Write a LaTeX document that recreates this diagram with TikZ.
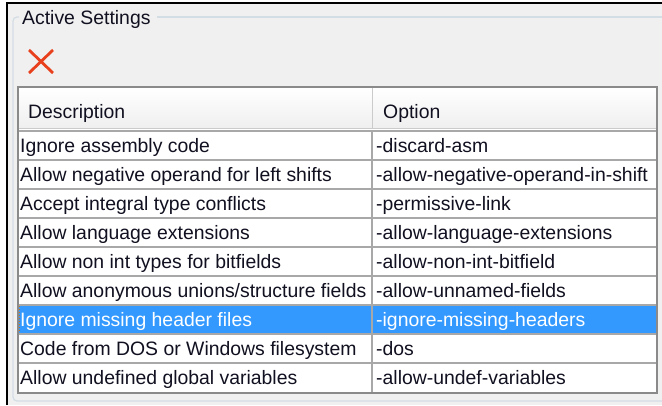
\documentclass[tikz,border=0pt]{standalone}
\usepackage{fontspec}
\setmainfont{Liberation Sans}
\definecolor{winbg}{HTML}{F0F0F0}
\definecolor{framec}{HTML}{D3DDE4}
\definecolor{gridc}{HTML}{A8A8A8}
\definecolor{borderc}{HTML}{8A8A8A}
\definecolor{hdrc}{HTML}{EFEFEF}
\definecolor{selc}{HTML}{3399FF}
\definecolor{focusc}{HTML}{C8741E}
\definecolor{xred}{HTML}{E8401C}
\definecolor{txt}{HTML}{101020}
\begin{document}
\begin{tikzpicture}[x=1pt,y=-1pt,
  every node/.style={inner sep=0pt, font=\fontsize{19.4}{22}\selectfont, text=txt},
  cell/.style={anchor=base west},
  selcell/.style={anchor=base west, text=white},
  gridline/.style={draw=gridc, line width=1.2pt},
]
\useasboundingbox (0,0) rectangle (662,405);
\fill[white] (0,0) rectangle (662,405);
\fill[winbg] (7,3) rectangle (662,405);
\draw[black, line width=1.6pt] (7,405) -- (7,3) -- (662,3);
% group box frame
\draw[framec, line width=1.2pt, rounded corners=4pt] (19,17) -- (13,17) -- (13,401) -- (663,401);
\draw[framec, line width=1.2pt] (157,17) -- (663,17);
\node[cell] (title) at (22,24) {Active Settings};
% delete icon
\coordinate (xa) at (29,50);
\coordinate (xb) at (53,73);
\coordinate (xc) at (53,50);
\coordinate (xd) at (29,73);
\draw[xred, line width=2.8pt] (xa) -- (xb);
\draw[xred, line width=2.8pt] (xc) -- (xd);
% table
\fill[white] (18,87) rectangle (657,393);
\shade[top color=white, bottom color=hdrc] (19,88) rectangle (656,128);
\draw[gridc!60, line width=1pt] (19,128) -- (656,128);
\draw[gridc!60, line width=1pt] (372,88) -- (372,128);
\node[cell] (hdesc) at (28,118) {Description};
\node[cell] (hopt) at (383,118) {Option};
% selected row
\fill[selc] (19,305) rectangle (656,334);
\draw[focusc, line width=1pt, dotted] (19.5,305.5) rectangle (371.5,333.5);
% grid
\foreach \yy in {131,160,189,218,247,276,305,334,363}
  \draw[gridline] (19,\yy) -- (656,\yy);
\draw[gridline] (372,131) -- (372,392);
% texts
\foreach \d/\o [count=\i] in {
  Ignore assembly code/-discard-asm,
  Allow negative operand for left shifts/-allow-negative-operand-in-shift,
  Accept integral type conflicts/-permissive-link,
  Allow language extensions/-allow-language-extensions,
  Allow non int types for bitfields/-allow-non-int-bitfield,
  Allow anonymous unions{/}structure fields/-allow-unnamed-fields}
{
  \node[cell] (d\i) at (20,{131+29*(\i-1)+21}) {\d};
  \node[cell] (o\i) at (376,{131+29*(\i-1)+21}) {\o};
}
\node[selcell] (d7) at (20,326) {Ignore missing header files};
\node[selcell] (o7) at (376,326) {-ignore-missing-headers};
\node[cell] (d8) at (20,355) {Code from DOS or Windows filesystem};
\node[cell] (o8) at (376,355) {-dos};
\node[cell] (d9) at (20,384) {Allow undefined global variables};
\node[cell] (o9) at (376,384) {-allow-undef-variables};
% outer border
\draw[borderc, line width=2.2pt] (18,87) rectangle (657,393);
\end{tikzpicture}
\end{document}
